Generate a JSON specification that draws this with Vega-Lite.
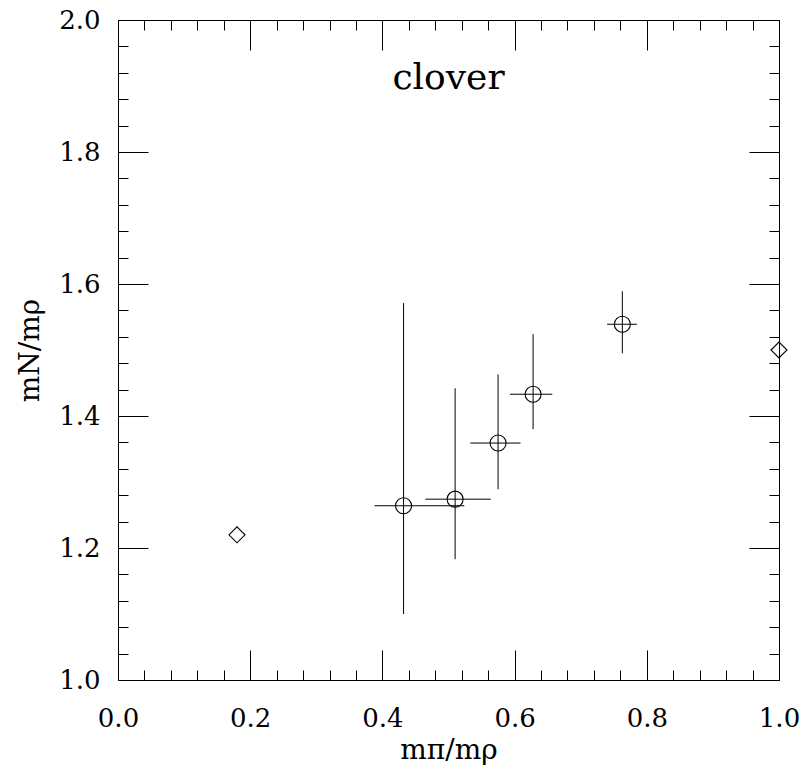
{
  "$schema": "https://vega.github.io/schema/vega-lite/v6.json",
  "width": 661,
  "height": 660,
  "autosize": {"type": "none"},
  "padding": {"left": 118, "top": 20, "right": 24, "bottom": 100},
  "datasets": {
    "pts": [
      {"x": 0.432, "y": 1.264, "xlo": 0.388, "xhi": 0.524, "ylo": 1.10, "yhi": 1.571},
      {"x": 0.510, "y": 1.274, "xlo": 0.465, "xhi": 0.564, "ylo": 1.183, "yhi": 1.442},
      {"x": 0.575, "y": 1.359, "xlo": 0.533, "xhi": 0.609, "ylo": 1.289, "yhi": 1.463},
      {"x": 0.628, "y": 1.433, "xlo": 0.593, "xhi": 0.657, "ylo": 1.380, "yhi": 1.524},
      {"x": 0.763, "y": 1.539, "xlo": 0.740, "xhi": 0.785, "ylo": 1.495, "yhi": 1.589}
    ],
    "exp": [
      {"x": 0.18, "y": 1.22},
      {"x": 1.0, "y": 1.5}
    ],
    "lab": [
      {"x": 0.5, "y": 1.895, "text": "clover"}
    ]
  },
  "layer": [
    {
      "data": {"name": "pts"},
      "mark": {"type": "rule", "color": "black", "strokeWidth": 1},
      "encoding": {
        "x": {
          "field": "xlo", "type": "quantitative",
          "scale": {"domain": [0, 1], "nice": false, "zero": false},
          "axis": {"orient": "bottom", "values": [0, 0.2, 0.4, 0.6, 0.8, 1.0], "tickSize": -30, "labelPadding": 55, "format": ".1f", "title": "mπ/mρ", "titlePadding": 5}
        },
        "x2": {"field": "xhi"},
        "y": {
          "field": "y", "type": "quantitative",
          "scale": {"domain": [1, 2], "nice": false, "zero": false},
          "axis": {"orient": "left", "values": [1.0, 1.2, 1.4, 1.6, 1.8, 2.0], "tickSize": -30, "labelPadding": 48, "format": ".1f", "title": "mN/mρ", "titlePadding": 14}
        }
      }
    },
    {
      "data": {"name": "pts"},
      "mark": {"type": "rule", "color": "black", "strokeWidth": 1},
      "encoding": {
        "x": {
          "field": "x", "type": "quantitative",
          "axis": {"orient": "bottom", "values": [0.04, 0.08, 0.12, 0.16, 0.24, 0.28, 0.32, 0.36, 0.44, 0.48, 0.52, 0.56, 0.64, 0.68, 0.72, 0.76, 0.84, 0.88, 0.92, 0.96], "tickSize": -10, "labels": false, "title": null}
        },
        "y": {
          "field": "ylo", "type": "quantitative",
          "axis": {"orient": "left", "values": [1.04, 1.08, 1.12, 1.16, 1.24, 1.28, 1.32, 1.36, 1.44, 1.48, 1.52, 1.56, 1.64, 1.68, 1.72, 1.76, 1.84, 1.88, 1.92, 1.96], "tickSize": -10, "labels": false, "title": null}
        },
        "y2": {"field": "yhi"}
      }
    },
    {
      "data": {"name": "pts"},
      "mark": {"type": "point", "shape": "circle", "filled": false, "stroke": "black", "strokeWidth": 1.1, "size": 256, "opacity": 1},
      "encoding": {
        "x": {
          "field": "x", "type": "quantitative",
          "axis": {"orient": "top", "values": [0, 0.2, 0.4, 0.6, 0.8, 1.0], "tickSize": -30, "labels": false, "title": null}
        },
        "y": {
          "field": "y", "type": "quantitative",
          "axis": {"orient": "right", "values": [1.0, 1.2, 1.4, 1.6, 1.8, 2.0], "tickSize": -30, "labels": false, "title": null}
        }
      }
    },
    {
      "data": {"name": "exp"},
      "mark": {"type": "point", "shape": "diamond", "filled": false, "stroke": "black", "strokeWidth": 1.1, "size": 256, "opacity": 1},
      "encoding": {
        "x": {
          "field": "x", "type": "quantitative",
          "axis": {"orient": "top", "values": [0.04, 0.08, 0.12, 0.16, 0.24, 0.28, 0.32, 0.36, 0.44, 0.48, 0.52, 0.56, 0.64, 0.68, 0.72, 0.76, 0.84, 0.88, 0.92, 0.96], "tickSize": -10, "labels": false, "title": null}
        },
        "y": {
          "field": "y", "type": "quantitative",
          "axis": {"orient": "right", "values": [1.04, 1.08, 1.12, 1.16, 1.24, 1.28, 1.32, 1.36, 1.44, 1.48, 1.52, 1.56, 1.64, 1.68, 1.72, 1.76, 1.84, 1.88, 1.92, 1.96], "tickSize": -10, "labels": false, "title": null}
        }
      }
    },
    {
      "data": {"name": "lab"},
      "mark": {"type": "text", "font": "DejaVu Serif", "fontSize": 36, "color": "black", "align": "center", "baseline": "alphabetic"},
      "encoding": {
        "x": {"field": "x", "type": "quantitative", "axis": null},
        "y": {"field": "y", "type": "quantitative", "axis": null},
        "text": {"field": "text"}
      }
    }
  ],
  "resolve": {"axis": {"x": "independent", "y": "independent"}},
  "config": {
    "background": "white",
    "view": {"stroke": "black", "strokeWidth": 1},
    "axis": {
      "grid": false,
      "domain": false,
      "tickColor": "black",
      "tickWidth": 1,
      "labelFont": "DejaVu Serif",
      "labelFontSize": 26,
      "labelColor": "black",
      "labelFlush": false,
      "labelOverlap": false,
      "titleFont": "DejaVu Serif",
      "titleFontSize": 28,
      "titleFontWeight": "normal",
      "titleColor": "black"
    }
  }
}
